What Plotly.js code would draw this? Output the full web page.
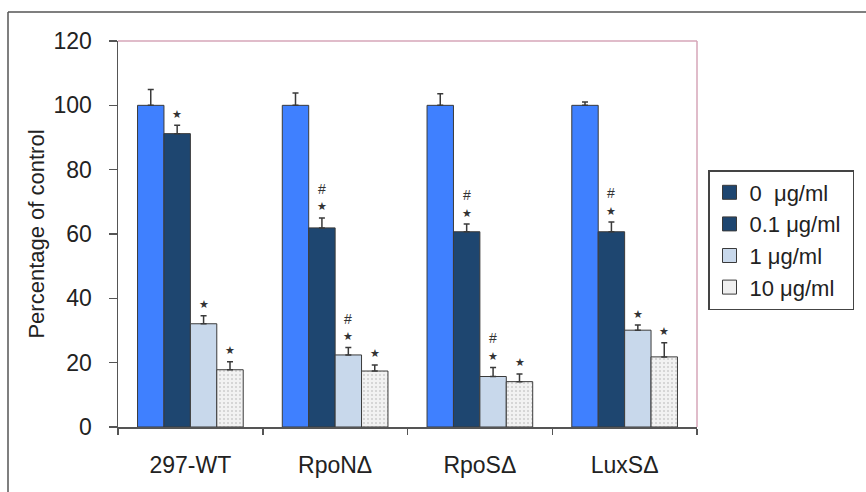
<!DOCTYPE html>
<html>
<head>
<meta charset="utf-8">
<script src="https://cdn.plot.ly/plotly-3.0.1.min.js"></script>
<style>
  html, body { margin: 0; padding: 0; background: #fff; }
  #chart { width: 866px; height: 492px; }
</style>
</head>
<body>
<div id="chart"></div>
<script>
// ---- data ----
const categories = ["297-WT", "RpoNΔ", "RpoSΔ", "LuxSΔ"];
const seriesNames = ["0  μg/ml", "0.1 μg/ml", "1 μg/ml", "10 μg/ml"];

const values0   = [100, 100, 100, 100];
const values01  = [91.2, 61.9, 60.7, 60.7];
const values1   = [32.1, 22.4, 15.7, 30.1];
const values10  = [17.8, 17.4, 14.1, 21.8];

const err0  = [4.9, 3.8, 3.6, 1.0];
const err01 = [2.6, 3.1, 2.4, 3.0];
const err1  = [2.5, 2.3, 2.8, 1.6];
const err10 = [2.5, 1.9, 2.4, 4.4];

// significance marks: star = vs control, hash = vs wild type
const star0  = [false, false, false, false];
const star01 = [true, true, true, true];
const star1  = [true, true, true, true];
const star10 = [true, true, true, true];
const hash0  = [false, false, false, false];
const hash01 = [false, true, true, true];
const hash1  = [false, true, true, false];
const hash10 = [false, false, false, false];

// ---- styling ----
const values = [values0, values01, values1, values10];
const errs = [err0, err01, err1, err10];
const stars = [star0, star01, star1, star10];
const hashes = [hash0, hash01, hash1, hash10];
const colors = ["#3F80FF", "#1E4670", "#C8D8EB", "#EFEFEF"];
const legendColors = ["#1E4670", "#1E4670", "#C8D8EB", "#EFEFEF"];
const bargap = 0.27;
const font = "Liberation Sans, Arial, sans-serif";

const traces = [];
values.forEach((vals, si) => {
  const marker = { color: colors[si], line: { color: "#3a3a3a", width: 1 } };
  if (si === 3) {
    marker.pattern = { shape: ".", fgcolor: "#cdcdcd", bgcolor: "#F2F2F2", size: 4, solidity: 0.2 };
  }
  traces.push({
    type: "bar",
    x: categories,
    y: vals,
    name: seriesNames[si],
    showlegend: false,
    marker: marker,
    error_y: {
      type: "data", array: errs[si], arrayminus: vals.map(() => 0), symmetric: false,
      color: "#3a3a3a", thickness: 1.5, width: 3
    },
    hoverinfo: "x+y"
  });
});
// legend entries
seriesNames.forEach((nm, si) => {
  traces.push({
    type: "scatter", mode: "markers", x: [null], y: [null], name: nm + "\u00a0",
    marker: { symbol: "square", size: 14, color: legendColors[si], line: { color: "#3a3a3a", width: 1 } },
    showlegend: true
  });
});

const barW = (1 - bargap) / 4;
const annotations = [];
values.forEach((vals, si) => {
  vals.forEach((v, ci) => {
    const x = ci + (si - 1.5) * barW;
    const y = v + errs[si][ci];
    if (stars[si][ci]) {
      annotations.push({
        x: x, y: y, xref: "x", yref: "y", text: "★", showarrow: false,
        yanchor: "middle", yshift: 11,
        font: { family: "DejaVu Sans, sans-serif", size: 11, color: "#333" }
      });
    }
    if (hashes[si][ci]) {
      annotations.push({
        x: x, y: y, xref: "x", yref: "y", text: "#", showarrow: false,
        yanchor: "middle", yshift: 29,
        font: { family: "Liberation Sans, Arial, sans-serif", size: 14, color: "#333" }
      });
    }
  });
});

const px = (x) => (x - 118) / 579;
const py = (y) => (427 - y) / 386;

const layout = {
  width: 866, height: 492,
  margin: { l: 118, r: 169, t: 41, b: 65, pad: 0 },
  paper_bgcolor: "#fff", plot_bgcolor: "#fff",
  barmode: "group", bargap: bargap, bargroupgap: 0,
  font: { family: font, color: "#222" },
  xaxis: {
    type: "category", showgrid: false, zeroline: false,
    showline: true, linecolor: "#555", linewidth: 1.5,
    ticks: "outside", tickson: "boundaries", ticklen: 6, tickcolor: "#555", tickwidth: 1.5,
    tickfont: { size: 23, color: "#222", family: font }, ticklabelstandoff: 17
  },
  yaxis: {
    range: [0, 120], dtick: 20, showgrid: false, zeroline: false,
    showline: true, linecolor: "#555", linewidth: 1.5,
    ticks: "outside", ticklen: 8, tickcolor: "#555", tickwidth: 1.5,
    tickfont: { size: 23, color: "#222", family: font }, ticklabelstandoff: 12,
    title: { text: "Percentage of control", font: { size: 22, color: "#222", family: font }, standoff: 3 }
  },
  legend: {
    x: px(708), y: py(170), xanchor: "left", yanchor: "top",
    bordercolor: "#444", borderwidth: 1.5, bgcolor: "#fff",
    font: { size: 22, color: "#222", family: font },
    itemwidth: 30, tracegroupgap: 0
  },
  annotations: annotations,
  shapes: [
    { type: "line", xref: "paper", yref: "paper", x0: 0, x1: 1, y0: 1, y1: 1, line: { color: "#D6A6B8", width: 1.5 } },
    { type: "line", xref: "paper", yref: "paper", x0: 1, x1: 1, y0: 0, y1: 1, line: { color: "#D6A6B8", width: 1.5 } },
    { type: "line", xref: "paper", yref: "paper", x0: px(8), x1: px(8), y0: py(12), y1: py(492), line: { color: "#555", width: 1.5 } },
    { type: "line", xref: "paper", yref: "paper", x0: px(8), x1: px(866), y0: py(12), y1: py(12), line: { color: "#555", width: 1.5 } }
  ],
  showlegend: true
};

Plotly.newPlot("chart", traces, layout, { displayModeBar: false, staticPlot: true });
</script>
</body>
</html>
